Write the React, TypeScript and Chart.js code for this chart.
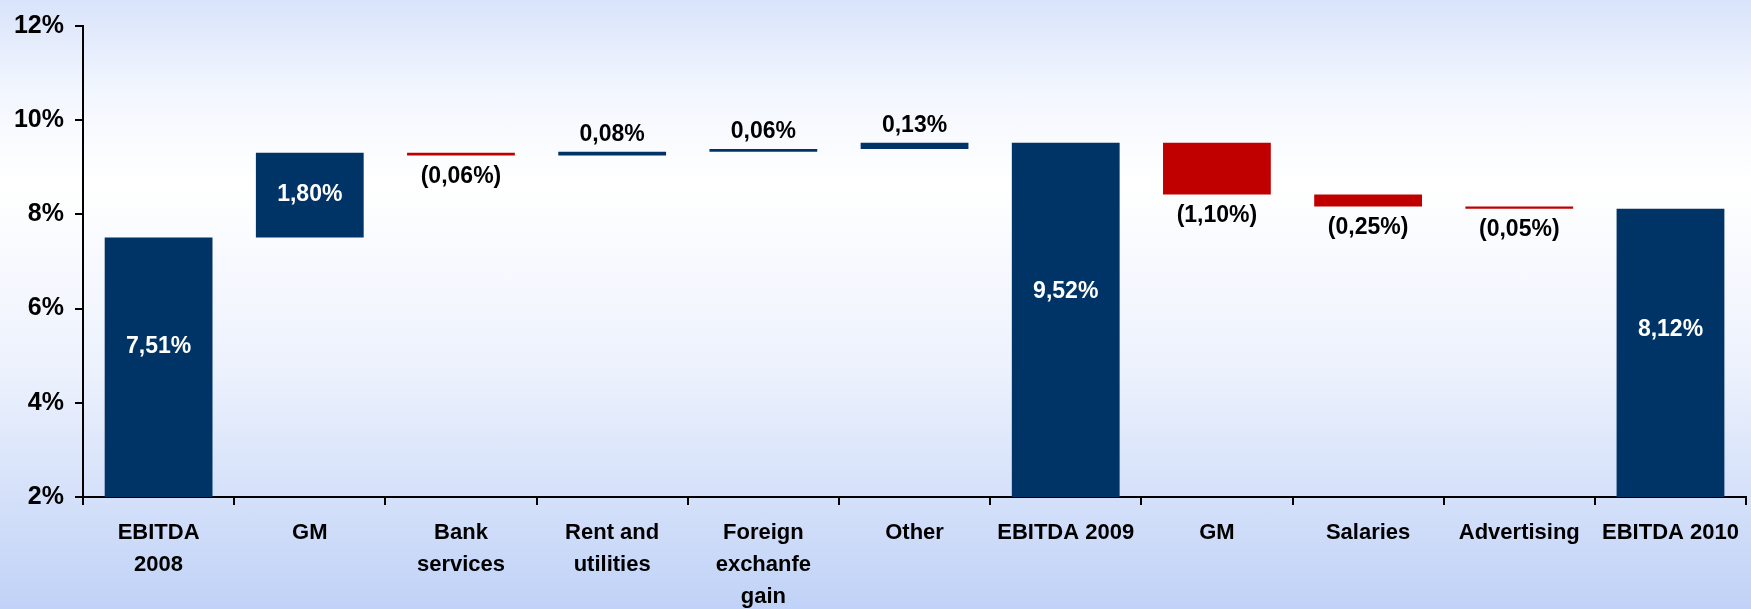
import React, { useEffect, useRef } from 'react';
import { Chart, registerables } from 'chart.js';

Chart.register(...registerables);

const categories: (string | string[])[] = [
  ['EBITDA', '2008'],
  'GM',
  ['Bank', 'services'],
  ['Rent and', 'utilities'],
  ['Foreign', 'exchanfe', 'gain'],
  'Other',
  'EBITDA 2009',
  'GM',
  'Salaries',
  'Advertising',
  'EBITDA 2010',
];

const changes = [7.51, 1.8, -0.06, 0.08, 0.06, 0.13, 9.52, -1.1, -0.25, -0.05, 8.12];
const isTotal = [true, false, false, false, false, false, true, false, false, false, true];

const yTicks = [2, 4, 6, 8, 10, 12];

const NAVY = '#003366';
const RED = '#C00000';
const FONT = '"Liberation Sans", Arial, Helvetica, sans-serif';

function fmt(v: number): string {
  const s = Math.abs(v).toFixed(2).replace('.', ',') + '%';
  return v < 0 ? '(' + s + ')' : s;
}

function buildFloating(): [number, number][] {
  let run = 0;
  return changes.map((v, i) => {
    if (isTotal[i]) {
      run = v;
      return [0, v] as [number, number];
    }
    const start = run;
    run = run + v;
    return [start, run] as [number, number];
  });
}

const labelPlugin = {
  id: 'wfLabels',
  afterDatasetsDraw(chart: any) {
    const ctx = chart.ctx;
    const meta = chart.getDatasetMeta(0);
    const area = chart.chartArea;
    ctx.save();
    ctx.font = 'bold 23px ' + FONT;
    ctx.textAlign = 'center';
    ctx.textBaseline = 'middle';
    meta.data.forEach((el: any, i: number) => {
      const { x, y, base } = el.getProps(['x', 'y', 'base'], true);
      const top = Math.min(y, base);
      const bottom = Math.min(Math.max(y, base), area.bottom);
      let ty: number;
      let color: string;
      if (isTotal[i]) {
        ty = top + (bottom - top) * 0.42;
        color = '#ffffff';
      } else if (changes[i] > 0 && bottom - top > 30) {
        ty = (top + bottom) / 2;
        color = '#ffffff';
      } else if (changes[i] > 0) {
        ty = top - 17;
        color = '#000000';
      } else {
        ty = bottom + 21;
        color = '#000000';
      }
      ctx.fillStyle = color;
      ctx.fillText(fmt(changes[i]), x, ty);
    });
    ctx.restore();
  },
};

export default function App() {
  const ref = useRef<HTMLCanvasElement | null>(null);

  useEffect(() => {
    if (!ref.current) return;
    const floating = buildFloating();
    const colors = changes.map((v, i) => (isTotal[i] || v >= 0 ? NAVY : RED));
    const chart = new Chart(ref.current, {
      type: 'bar',
      data: {
        labels: categories,
        datasets: [
          {
            data: floating as any,
            backgroundColor: colors,
            borderWidth: 0,
            categoryPercentage: 1,
            barPercentage: 0.713,
          },
        ],
      },
      options: {
        responsive: false,
        animation: false,
        devicePixelRatio: 1,
        layout: { padding: { top: 25, right: 1, left: 0, bottom: 0 } },
        plugins: {
          legend: { display: false },
          tooltip: { enabled: false },
        },
        scales: {
          x: {
            afterFit: (s: any) => {
              s.height = 112;
            },
            grid: {
              drawOnChartArea: false,
              drawTicks: true,
              tickLength: 8,
              color: '#000000',
              lineWidth: 2,
            },
            border: { color: '#000000', width: 2 },
            ticks: {
              color: '#000000',
              padding: 12,
              maxRotation: 0,
              autoSkip: false,
              font: { family: FONT, size: 22, weight: 'bold', lineHeight: 1.45 },
            },
          },
          y: {
            min: 2,
            max: 12,
            afterFit: (s: any) => {
              s.width = 83;
            },
            afterBuildTicks: (s: any) => {
              s.ticks = yTicks.map((v) => ({ value: v }));
            },
            grid: {
              drawOnChartArea: false,
              drawTicks: true,
              tickLength: 8,
              color: '#000000',
              lineWidth: 2,
            },
            border: { color: '#000000', width: 2 },
            ticks: {
              color: '#000000',
              padding: 11,
              font: { family: FONT, size: 25, weight: 'bold' },
              callback: (v: any) => v + '%',
            },
          },
        },
      },
      plugins: [labelPlugin],
    });
    return () => chart.destroy();
  }, []);

  return (
    <div
      style={{
        position: 'absolute',
        left: 0,
        top: 0,
        width: 1751,
        height: 609,
        background:
          'linear-gradient(to bottom, #d9e3fa 0%, #f2f6fe 15%, #ffffff 30%, #edf2fd 60%, #c0d2f7 100%)',
      }}
    >
      <canvas ref={ref} width={1751} height={609} style={{ display: 'block' }} />
    </div>
  );
}
